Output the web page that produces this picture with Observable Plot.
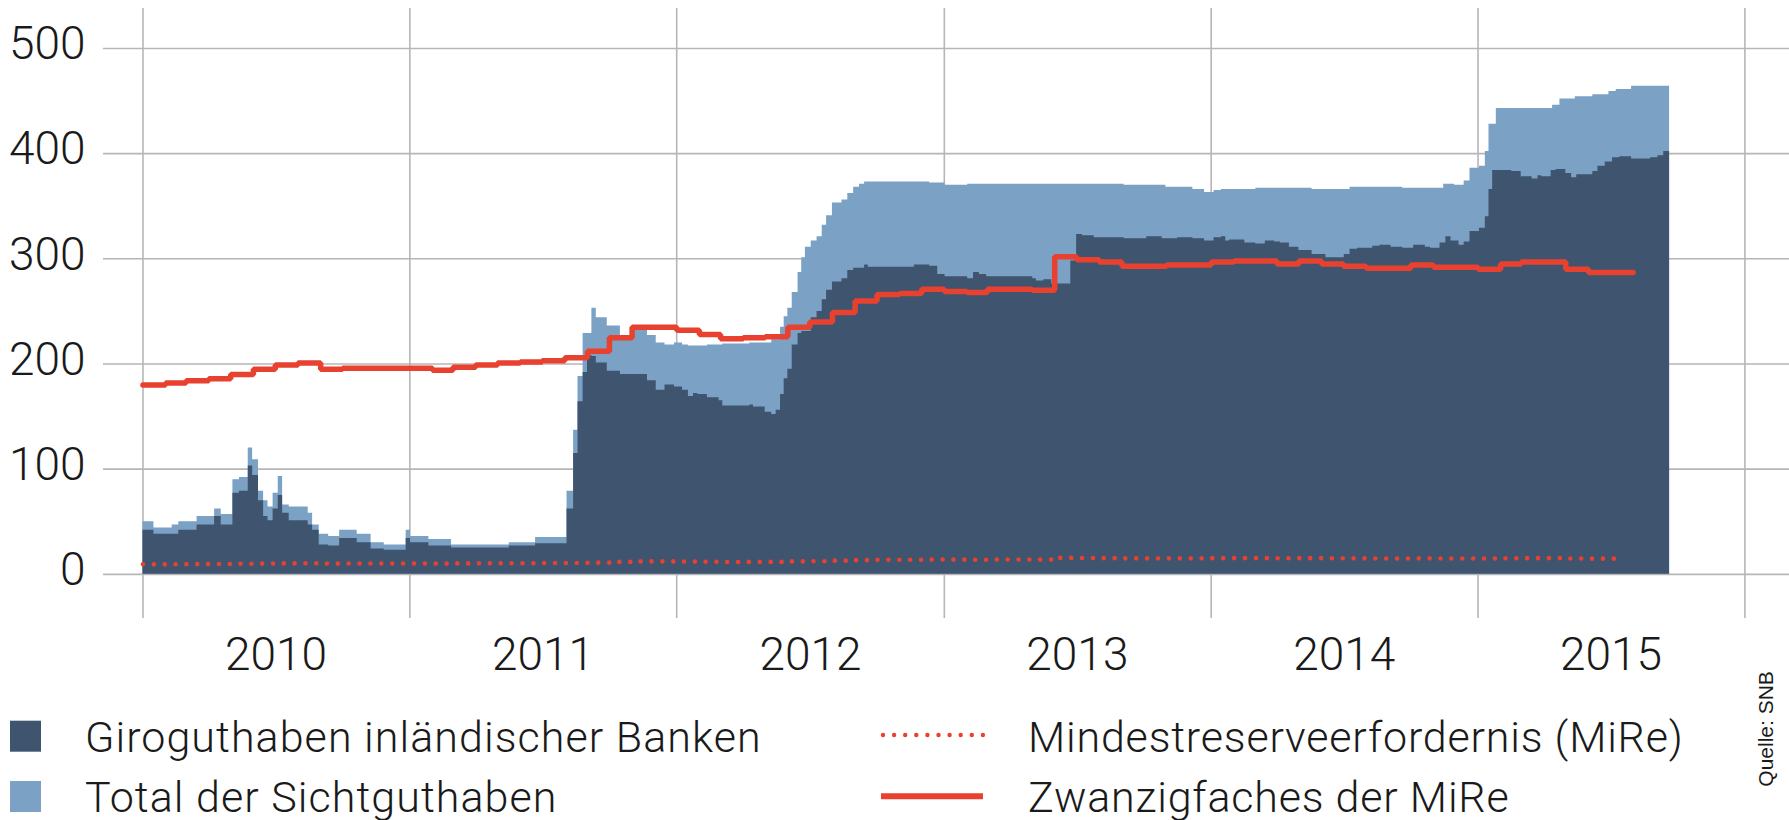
<!DOCTYPE html>
<html>
<head>
<meta charset="utf-8">
<script src="https://cdn.jsdelivr.net/npm/d3@7"></script>
<script src="https://cdn.jsdelivr.net/npm/@observablehq/plot@0.6"></script>
<style>
  html, body { margin: 0; padding: 0; background: #fff; }
  #chart { position: relative; width: 1789px; }
  svg { font-family: Roboto, "Liberation Sans", sans-serif; }
</style>
</head>
<body>
<div id="chart"></div>
<script>
// ---------------- data ----------------
// weekly-ish sight deposit observations (bn CHF), step data
const obsDates = [
"2010-01-01","2010-01-16","2010-02-10","2010-02-19","2010-03-16","2010-04-09","2010-04-18","2010-05-04","2010-05-13","2010-05-25",
"2010-05-31","2010-06-08","2010-06-15","2010-06-21","2010-06-28","2010-07-05","2010-07-11","2010-07-20","2010-08-15","2010-08-21",
"2010-08-30","2010-09-12","2010-09-27","2010-10-21","2010-11-09","2010-11-27","2010-12-27","2011-01-02","2011-01-27","2011-02-27",
"2011-05-17","2011-06-22","2011-08-04","2011-08-13","2011-08-19","2011-08-26","2011-09-01","2011-09-07","2011-09-13","2011-09-28",
"2011-10-16","2011-11-04","2011-11-22","2011-12-04","2011-12-16","2011-12-29","2012-01-09","2012-01-17","2012-01-24","2012-01-30",
"2012-02-12","2012-02-28","2012-03-04","2012-04-10","2012-04-15","2012-05-01","2012-05-10","2012-05-16","2012-05-22","2012-05-27",
"2012-06-01","2012-06-07","2012-06-15","2012-06-20","2012-06-25","2012-07-03","2012-07-11","2012-07-18","2012-07-24","2012-08-01",
"2012-08-14","2012-08-22","2012-08-30","2012-09-07","2012-09-14","2012-09-19","2012-11-21","2012-12-12","2012-12-23","2013-01-02",
"2013-02-02","2013-02-10","2013-02-18","2013-02-28","2013-05-02","2013-05-07","2013-05-17","2013-05-28","2013-06-23","2013-07-01",
"2013-07-09","2013-07-25","2013-09-04","2013-10-05","2013-10-26","2013-10-31","2013-11-16","2013-12-07","2013-12-23","2014-01-05",
"2014-01-15","2014-01-21","2014-01-26","2014-02-16","2014-03-03","2014-03-16","2014-03-29","2014-04-06","2014-04-18","2014-05-01",
"2014-05-19","2014-06-07","2014-07-02","2014-07-10","2014-07-20","2014-08-10","2014-08-20","2014-09-04","2014-09-20","2014-10-05",
"2014-10-21","2014-10-28","2014-11-10","2014-11-15","2014-11-18","2014-11-25","2014-11-30","2014-12-06","2014-12-13","2014-12-21",
"2015-01-03","2015-01-11","2015-01-16","2015-01-21","2015-01-26","2015-02-16","2015-03-01","2015-03-16","2015-03-24","2015-03-29",
"2015-04-11","2015-04-13","2015-04-18","2015-04-23","2015-05-01","2015-05-09","2015-05-14","2015-05-16","2015-06-07","2015-06-14",
"2015-06-24","2015-06-29","2015-07-04","2015-07-09","2015-07-14","2015-07-30","2015-08-25","2015-09-04","2015-09-12","2015-09-20"
];
// Giroguthaben inländischer Banken
const giroValues = [
42,38,38,42,47,55,47,77,79,103,
94,70,55,51,62,75,58,51,47,42,
28,27,34,30,24,23,34,30,27,25,
27,29,62,115,164,192,208,207,201,193,
190,190,184,175,180,178,175,169,172,171,
168,165,160,161,159,154,152,156,171,186,
195,218,229,231,231,244,250,261,270,278,
281,289,291,291,294,292,294,293,285,283,
281,287,285,283,281,279,280,276,298,323,
322,320,319,321,319,319,320,319,317,320,
321,317,318,315,314,317,316,315,311,308,
304,301,304,309,310,312,313,311,310,313,
311,310,315,315,321,317,317,313,316,326,
329,340,366,384,384,383,378,376,379,378,
384,384,385,385,381,377,377,380,383,388,
392,392,396,396,397,395,396,398,402,402
];
// Total der Sichtguthaben
const totalValues = [
50,44,47,50,55,62,57,90,92,120,
109,79,70,64,77,93,66,64,58,47,
38,36,42,38,30,28,42,36,33,28,
30,35,79,137,188,229,229,253,244,236,
227,233,227,220,218,220,218,217,217,217,
218,218,219,220,220,220,223,223,235,245,
253,268,287,301,311,317,321,332,341,353,
356,362,368,371,373,373,373,372,372,370,
371,371,371,371,371,371,371,371,371,371,
371,371,370,370,370,368,368,366,363,365,
366,366,366,366,367,367,367,367,367,367,
366,366,366,368,368,368,368,368,367,367,
367,367,367,371,371,371,370,370,374,386,
388,402,428,428,443,443,443,443,443,443,
443,446,446,452,452,452,454,454,456,456,
456,459,459,461,461,464,464,464,464,464
];
// Zwanzigfaches der MiRe, monthly Jan 2010 ... Jul 2015 (+ closing value)
const mireMonthStart = "2010-01-01";
const mire20Values = [
180,182,184,186,190,195,199,201,195,196,196,196,
196,194,197,199,201,202,203,206,212,225,235,235,
232,228,224,225,226,235,240,249,260,266,267,271,
269,268,271,271,270,302,299,297,293,293,294,294,
297,298,298,295,298,295,293,291,291,294,292,292,
290,295,297,297,290,287,287,
287
];
// Mindestreserveerfordernis (MiRe), monthly Jan 2010 ... Jul 2015 (+ closing value mid-July)
const mireValues = [
9.5,9.6,9.7,9.8,10.0,10.2,10.4,10.5,10.2,10.3,10.3,10.3,
10.3,10.2,10.4,10.5,10.6,10.6,10.7,10.8,11.1,11.8,12.3,12.3,
12.1,11.9,11.7,11.8,11.8,12.3,12.5,13.0,13.5,13.8,13.9,14.1,
14.0,13.9,14.1,14.1,14.0,15.6,15.5,15.4,15.2,15.2,15.2,15.2,
15.4,15.4,15.4,15.3,15.4,15.3,15.2,15.1,15.1,15.2,15.1,15.1,
15.0,15.3,15.4,15.4,15.0,14.9,14.9
];
const mireEnd = "2015-07-16";
const mireEndValue = 14.9;
const years = [2010, 2011, 2012, 2013, 2014, 2015];
const yTicks = [0, 100, 200, 300, 400, 500];
const legendItems = [
  "Giroguthaben inländischer Banken",
  "Total der Sichtguthaben",
  "Mindestreserveerfordernis (MiRe)",
  "Zwanzigfaches der MiRe"
];
const sourceText = "Quelle: SNB";

// ---------------- build tables ----------------
const DARK = "#3e546f", LIGHT = "#7ba1c5", RED = "#e84130", GRID = "#b6b6b6", INK = "#1a1a1a";
const parse = s => new Date(s + "T00:00:00Z");
const obs = obsDates.map((d, i) => ({date: parse(d), giro: giroValues[i], total: totalValues[i]}));
const months = d3.utcMonth.range(parse(mireMonthStart), parse("2015-08-02"));
const red = months.map((d, i) => ({date: d, v: mire20Values[i]}));
const mire = mireValues.map((v, i) => ({date: months[i], v}));
mire.push({date: parse(mireEnd), v: mireEndValue});
const yearStarts = d3.range(2010, 2017).map(y => new Date(Date.UTC(y, 0, 1)));
const midYears = years.map(y => new Date(Date.UTC(y, 6, 2)));

const plot = Plot.plot({
  width: 1789,
  height: 690,
  marginLeft: 103,
  marginRight: 0,
  marginTop: 8,
  marginBottom: 72,
  style: {fontFamily: "Roboto, 'Liberation Sans', sans-serif", fontWeight: 300, color: INK, background: "#fff", overflow: "visible"},
  x: {type: "utc", domain: [parse("2009-11-08"), parse("2016-03-02")], axis: null},
  y: {domain: [-42, 538], axis: null},
  marks: [
    Plot.ruleY(yTicks, {stroke: GRID, strokeWidth: 1.6}),
    Plot.ruleX(yearStarts, {stroke: GRID, strokeWidth: 1.6}),
    Plot.areaY(obs, {x: "date", y: "total", fill: LIGHT, curve: "step-after"}),
    Plot.areaY(obs, {x: "date", y: "giro", fill: DARK, curve: "step-after"}),
    Plot.lineY(mire, {x: "date", y: "v", stroke: RED, strokeWidth: 4.6, strokeDasharray: "0 10.9", strokeLinecap: "round", curve: "step-after"}),
    Plot.lineY(red, {x: "date", y: "v", stroke: RED, strokeWidth: 5.5, curve: "step-after", strokeLinejoin: "miter"}),
    Plot.axisY(yTicks, {tickSize: 0, tickPadding: 18, fontSize: 46, dy: -4, label: null, fill: INK, fontWeight: 300}),
    Plot.axisX(midYears, {tickSize: 0, tickPadding: 19, fontSize: 46, label: null, tickFormat: d => String(d.getUTCFullYear()), fill: INK, fontWeight: 300})
  ]
});
const chart = document.getElementById("chart");
chart.appendChild(plot);

// ---------------- legend (below the SVG) ----------------
const ns = "http://www.w3.org/2000/svg";
const leg = d3.select(chart).append("svg")
  .attr("xmlns", ns)
  .attr("width", 1789).attr("height", 130)
  .style("display", "block").style("overflow", "visible")
  .style("font-family", "Roboto, 'Liberation Sans', sans-serif");
const rowBase = [61.7, 121.7];
leg.append("rect").attr("x", 10).attr("y", 30.7).attr("width", 31).attr("height", 31).attr("fill", DARK);
leg.append("rect").attr("x", 10).attr("y", 91).attr("width", 31).attr("height", 31).attr("fill", LIGHT);
leg.append("line").attr("x1", 883).attr("x2", 983).attr("y1", 45).attr("y2", 45)
  .attr("stroke", RED).attr("stroke-width", 4.4).attr("stroke-dasharray", "0 11.1").attr("stroke-linecap", "round");
leg.append("line").attr("x1", 881).attr("x2", 983).attr("y1", 106.3).attr("y2", 106.3)
  .attr("stroke", RED).attr("stroke-width", 6);
const lx = [85, 85, 1028, 1028];
const ly = [rowBase[0], rowBase[1], rowBase[0], rowBase[1]];
const ls = [1.05, 1.05, 0.8, 0.8];
legendItems.forEach((t, i) => {
  leg.append("text").attr("x", lx[i]).attr("y", ly[i]).attr("font-size", 43).attr("font-weight", 300)
    .attr("letter-spacing", ls[i]).attr("fill", INK).text(t);
});
leg.append("text")
  .attr("transform", "translate(1773,96.7) rotate(-90)")
  .attr("font-family", "'Liberation Sans', Arial, sans-serif")
  .attr("font-size", 21).attr("fill", INK).text(sourceText);
</script>
</body>
</html>
